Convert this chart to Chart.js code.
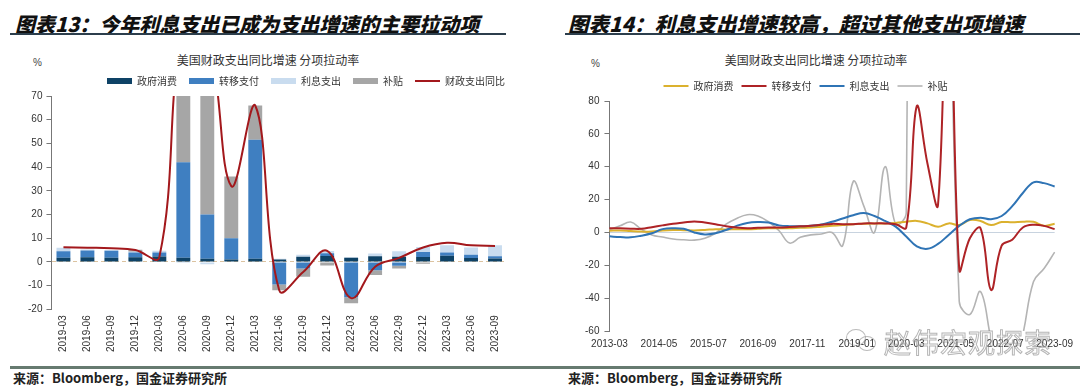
<!DOCTYPE html>
<html><head><meta charset="utf-8">
<script src="https://cdn.jsdelivr.net/npm/chart.js@4"></script>
<style>
html,body{margin:0;padding:0;background:#fff}
body{width:1080px;height:391px;position:relative;overflow:hidden;font-family:"Noto Sans CJK SC",sans-serif}
.title{position:absolute;top:9px;font-weight:900;font-style:italic;color:#111;white-space:nowrap;line-height:29px}
.rule{position:absolute;top:33px;height:2px;background:#2c3e4c}
.foot{position:absolute;top:366px;left:10px;width:1070px;height:3px;background:#667a70}
.src{position:absolute;top:369px;font-size:13px;font-weight:700;color:#222;line-height:18px;white-space:nowrap}
.sub{position:absolute;top:52px;font-size:12px;color:#333;line-height:16px;white-space:nowrap;transform:translateX(-50%)}
.pct{position:absolute;font-size:10px;color:#444;font-family:"Liberation Sans",Arial,sans-serif;line-height:12px}
.wm{position:absolute;left:884px;top:322px;font-size:27px;color:rgba(255,255,255,0.35);-webkit-text-stroke:1px rgba(120,120,120,0.55);white-space:nowrap;letter-spacing:1px}
.ic{position:absolute;border:1.5px solid rgba(120,120,120,0.5);border-radius:50%}
canvas{position:absolute}
</style></head>
<body>
<div class="title" style="left:15px;font-size:20px">图表13：今年利息支出已成为支出增速的主要拉动项</div>
<div class="rule" style="left:10px;width:496px"></div>
<div class="title" style="left:568px;font-size:20.5px">图表14：利息支出增速较高，超过其他支出项增速</div>
<div class="rule" style="left:565px;width:515px"></div>

<div class="sub" style="left:268px">美国财政支出同比增速 分项拉动率</div>
<div class="sub" style="left:816px">美国财政支出同比增速 分项拉动率</div>
<div class="pct" style="left:33px;top:57px">%</div>
<div class="pct" style="left:591px;top:58px">%</div>

<div style="position:absolute;left:0;top:60px;width:540px;height:300px"><canvas id="c1" width="540" height="300"></canvas></div>
<div style="position:absolute;left:560px;top:66px;width:520px;height:295px"><canvas id="c2" width="520" height="295"></canvas></div>

<div class="ic" style="left:846px;top:329px;width:18px;height:15px"></div>
<div class="ic" style="left:858px;top:336px;width:16px;height:13px"></div>
<div class="wm">赵伟宏观探索</div>

<div class="foot"></div>
<div class="src" style="left:13px">来源：Bloomberg，国金证券研究所</div>
<div class="src" style="left:568px">来源：Bloomberg，国金证券研究所</div>

<script>
// ---------- Chart 13 (quarterly contributions) ----------
const quarters13 = ['2019-03','2019-06','2019-09','2019-12','2020-03','2020-06','2020-09','2020-12','2021-03','2021-06','2021-09','2021-12','2022-03','2022-06','2022-09','2022-12','2023-03','2023-06','2023-09'];
const govCons13  = [1.7, 2.0, 1.8, 2.0, 2.3, 1.7, 1.3, 1.0, 1.3, 1.0, 2.2, 2.5, 1.7, 2.4, 2.2, 2.1, 2.6, 1.6, 1.4];
const transfer13 = [2.8, 2.8, 2.9, 2.0, 1.7, 40.3, 18.7, 9.0, 50.2, -9.5, -2.8, 1.1, -14.9, -3.5, -1.6, 2.1, 1.4, 1.4, 1.0];
const interest13 = [1.5, 0.4, 0.3, 0.3, 0.7, -0.5, -1.0, -0.3, 0.0, 0.3, 0.8, 1.0, 0.3, 1.1, 2.3, 2.1, 3.0, 3.1, 4.6];
const subsidy13  = [0, 0, 0, 0.8, 0, 40, 60, 26, 14.5, -2.5, -3.5, -1.5, -2.5, -2.0, -1.2, -0.8, 0, 0, 0];
const total13    = [6.2, 6.0, 5.8, 5.0, 2.0, 100, 95, 32, 66, -12, -4.3, 4.7, -15.3, -2.0, 1.7, 6.1, 8.1, 7.0, 6.7];
const names13 = ['政府消费','转移支付','利息支出','补贴','财政支出同比'];
const yTicks13 = {min:-20, max:70, step:10};

// ---------- Chart 14 (quarterly growth, monthly axis) ----------
const axisStart = {year:2013, month:3};
const axisMonths = 127;         // 2013-03 .. 2023-09
const labelEvery = 14;          // 2013-03, 2014-05, 2015-07 ...
const govCons14  = [1, 1.2, 0.8, 0.5, 0.6, 1.2, 1.5, 1.4, 1.2, 1.5, 2, 1.8, 2, 2, 2.2, 2.5, 2.5, 2.5, 2.8, 3, 3.5, 4, 4.5, 5, 5.3, 5.5, 5.5, 5.8, 6.5, 7, 5.5, 3.5, 5.5, 4.5, 7.5, 7, 4.5, 6.3, 6.2, 6.5, 6.5, 4, 5.3];
const transfer14 = [2.6, 2.5, 2.3, 2.2, 3.2, 4.3, 5.3, 6, 6.7, 6, 5, 3.8, 3, 2.6, 2.8, 3, 3, 3.3, 3.7, 4, 4.7, 5.2, 5, 5, 5.5, 5.5, 5.5, 5, 3, 77, 42, 17, 200, -22.5, -3.5, 2.6, -35, -8, -4.4, 3, 4.7, 4, 2];
const interest14 = [-2.4, -2.8, -3, -2, -0.5, 2, 2.6, 2.2, 0, -1.2, -0.5, 1.5, 4, 5.8, 6.3, 6, 4.3, 3.8, 3.8, 4, 4.8, 6.5, 8.5, 10.5, 11.8, 10, 7, 3.5, -2.5, -8.5, -10, -7, -1.5, 4, 8, 9, 8, 10, 16, 24, 30.5, 30, 28];
const subsidy14  = [1.6, 4, 6.3, 2, -1.5, -2.8, -4, -4.5, -4.7, -3.5, -0.5, 5, 8.5, 10.8, 10, 6.5, 1, -6.5, -3, -1.5, -1, 0, -8, 31, 16, 0, 40, 5, 12, 900, 1100, 700, 250, -42, -50, -36, -65, -90, -85, -62, -30, -22, -12];
const names14 = ['政府消费','转移支付','利息支出','补贴'];
const yTicks14 = {min:-60, max:80, step:20};

// ---------- helpers ----------
const tickFont = {family:'"Liberation Sans", Arial, sans-serif', size:10};
const legendFont = {family:'"Noto Sans CJK SC", sans-serif', size:10};
function legendLabels(chart){
  const items = Chart.defaults.plugins.legend.labels.generateLabels(chart);
  items.forEach(it => {
    const ds = chart.data.datasets[it.datasetIndex];
    it.pointStyle = (ds.type === 'line' || chart.config.type === 'line') ? 'line' : 'rect';
  });
  return items;
}
// shifts the legend block horizontally after layout
const legendShift = {
  id:'legendShift',
  afterLayout(chart, args, opts){
    const lg = chart.legend; if (!lg || !opts.dx) return;
    lg.left += opts.dx; lg.right += opts.dx;
    if (lg.legendHitBoxes) lg.legendHitBoxes.forEach(h => { h.left += opts.dx; });
  }
};

// ---------- Chart 13 ----------
const barColors = ['#0e4266','#3f7fc1','#c9dcef','#a6a6a6'];
const barSeries = [govCons13, transfer13, interest13, subsidy13];
const ds13 = barSeries.map((arr,i)=>({
  type:'bar', label:names13[i], data:arr, backgroundColor:barColors[i], borderWidth:0,
  barPercentage:0.58, categoryPercentage:1, order:1, stack:'s'
}));
ds13.push({type:'line', label:names13[4], data:total13, borderColor:'#a3181c', backgroundColor:'#a3181c',
  borderWidth:2, pointRadius:0, tension:0.4, order:0});

new Chart(document.getElementById('c1'), {
  type:'bar',
  data:{labels:quarters13, datasets:ds13},
  plugins:[legendShift],
  options:{
    responsive:false, animation:false,
    layout:{padding:{left:24, right:33, top:4, bottom:2}},
    plugins:{
      legendShift:{dx:10},
      legend:{position:'top', align:'end',
        labels:{usePointStyle:true, pointStyleWidth:25, boxHeight:6, padding:12, font:legendFont, color:'#333',
          generateLabels:legendLabels, sort:(a,b)=>a.datasetIndex-b.datasetIndex}},
      tooltip:{enabled:false}
    },
    scales:{
      x:{stacked:true, grid:{display:false, drawTicks:false}, border:{display:false},
         ticks:{font:tickFont, color:'#333', minRotation:90, maxRotation:90, padding:6, autoSkip:false}},
      y:{stacked:true, min:yTicks13.min, max:yTicks13.max,
         ticks:{stepSize:yTicks13.step, font:tickFont, color:'#333', padding:4},
         grid:{color:c=>c.tick && c.tick.value===0 ? '#dcc3a0' : 'rgba(0,0,0,0)', lineWidth:1,
               tickColor:'#777', tickLength:5, drawTicks:true},
         border:{display:true, color:'#777', width:1, dash:[4,3]}}
    }
  }
});

// ---------- Chart 14 ----------
const monthLabels = [];
for (let k=0;k<axisMonths;k++){
  const m0 = axisStart.month - 1 + k;
  const y = axisStart.year + Math.floor(m0/12);
  const m = (m0 % 12) + 1;
  monthLabels.push(y + '-' + String(m).padStart(2,'0'));
}
function toMonthly(q){ // quarterly values placed on their quarter-end month
  const out = new Array(axisMonths).fill(null);
  q.forEach((v,i)=>{ out[i*3] = v; });
  return out;
}
const lineColors = ['#dbb12e','#ae2326','#2f74b5','#b4b4b4'];
const lineOrders = [2,0,1,3];
const ds14 = [govCons14, transfer14, interest14, subsidy14].map((arr,i)=>({
  label:names14[i], data:toMonthly(arr), borderColor:lineColors[i], backgroundColor:lineColors[i],
  borderWidth:i===3?1.6:2, pointRadius:0, tension:0.4, spanGaps:true, order:lineOrders[i]
}));

new Chart(document.getElementById('c2'), {
  type:'line',
  data:{labels:monthLabels, datasets:ds14},
  plugins:[legendShift],
  options:{
    responsive:false, animation:false,
    layout:{padding:{left:20, right:23, top:7, bottom:4}},
    plugins:{
      legendShift:{dx:-13},
      legend:{position:'top', align:'center',
        labels:{usePointStyle:true, pointStyleWidth:25, boxHeight:6, padding:8, font:legendFont, color:'#333',
          generateLabels:legendLabels, sort:(a,b)=>a.datasetIndex-b.datasetIndex}},
      tooltip:{enabled:false}
    },
    scales:{
      x:{grid:{display:false, drawTicks:false}, border:{display:false},
         ticks:{font:tickFont, color:'#333', autoSkip:false, maxRotation:0, minRotation:0, padding:7,
                callback:(v,i)=> i % labelEvery === 0 ? monthLabels[i] : ''}},
      y:{min:yTicks14.min, max:yTicks14.max,
         ticks:{stepSize:yTicks14.step, font:tickFont, color:'#333', padding:5},
         grid:{color:c=>c.tick && c.tick.value===0 ? '#c8d3df' : 'rgba(0,0,0,0)', lineWidth:1,
               tickColor:'#777', tickLength:5, drawTicks:true},
         border:{display:true, color:'#777', width:1}}
    }
  }
});
</script>
</body></html>
